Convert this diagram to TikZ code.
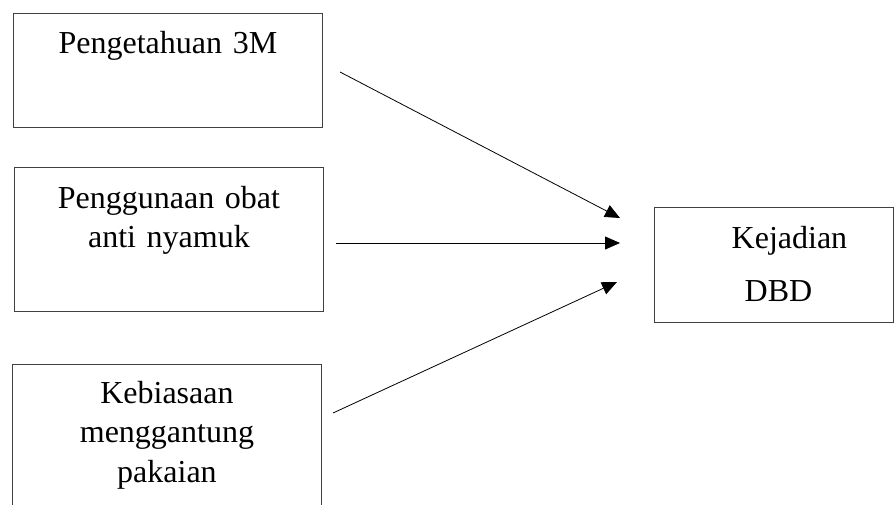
\documentclass[tikz,border=0pt]{standalone}
\usepackage{fontspec}
\setmainfont{Liberation Serif}
\usepackage{xcolor}
\usetikzlibrary{arrows.meta, positioning}
\definecolor{garisabu}{HTML}{404040}

\begin{document}
\begin{tikzpicture}[
    x=1pt, y=1pt,
    kotak/.style={draw=garisabu, line width=0.9pt, inner sep=0pt, align=center, anchor=north west, font=\fontsize{32}{39.5}\selectfont},
    panah/.style={-{Triangle[length=15pt, width=13pt]}, line width=0.8pt, draw=black}
  ]
    \useasboundingbox (0,0) rectangle (895,-505);

    \node[kotak, text width=309pt, text height=40pt, text depth=74pt] (pengetahuan) at (13,-13) {Pengetahuan 3M};
    \node[kotak, text width=309pt, text height=41pt, text depth=103pt] (obat) at (14,-167) {Penggunaan obat\\anti nyamuk};
    \node[kotak, text width=309pt, text height=39pt, text depth=190pt] (kebiasaan) at (12,-364) {Kebiasaan\\menggantung\\pakaian};
    \node[kotak, text width=239pt, text height=41pt, text depth=74pt] (dbd) at (654,-207) {\hspace*{31pt}Kejadian\\[14pt]\hspace*{9pt}DBD};

    % ujung panah
    \coordinate (a1) at (340,-72);
    \coordinate (b1) at (620,-218);
    \coordinate (a2) at (336,-243);
    \coordinate (b2) at (620,-243);
    \coordinate (a3) at (333,-413);
    \coordinate (b3) at (617,-282);

    \draw[panah] (a1) -- (b1);
    \draw[panah] (a2) -- (b2);
    \draw[panah] (a3) -- (b3);
  \end{tikzpicture}
\end{document}
